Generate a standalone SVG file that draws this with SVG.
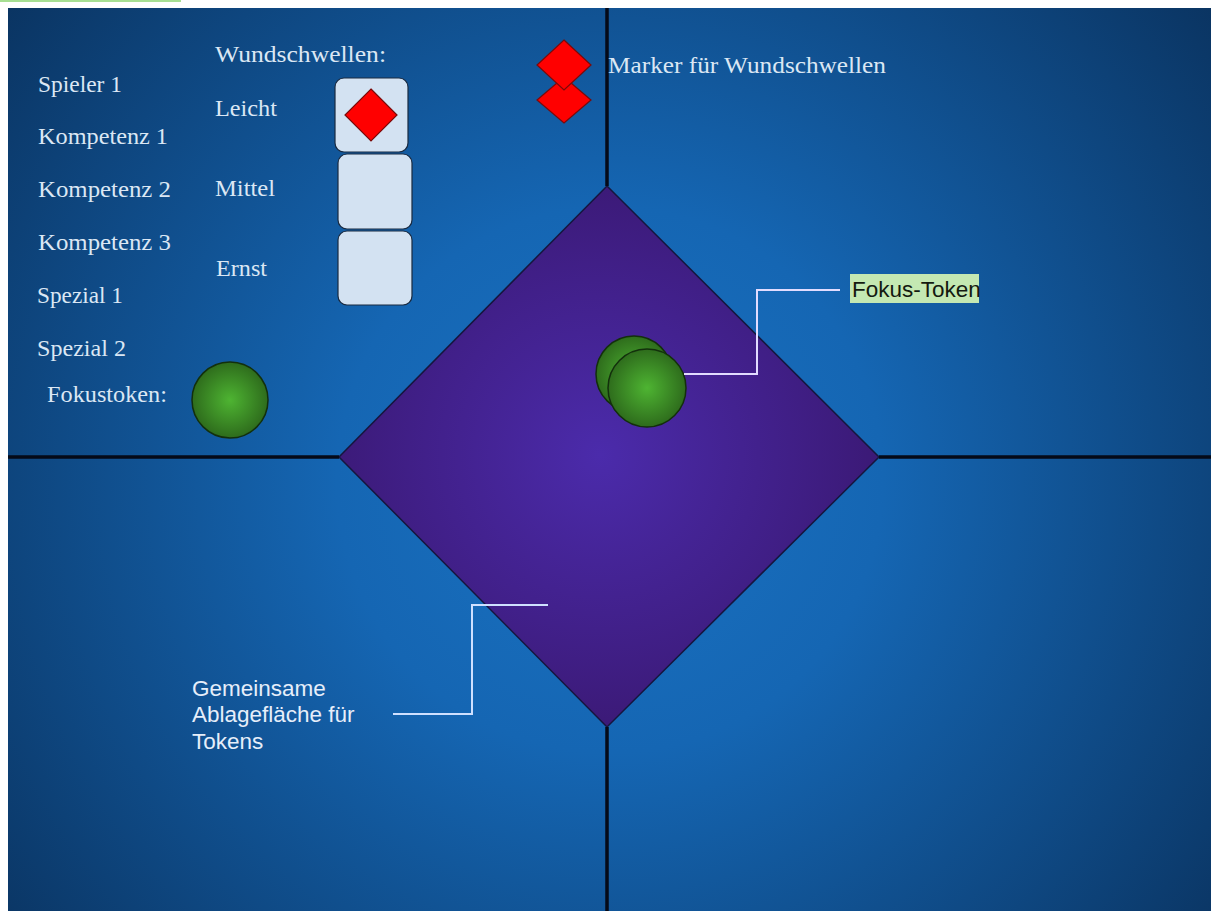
<svg xmlns="http://www.w3.org/2000/svg" width="1211" height="911" viewBox="0 0 1211 911">
<defs>
<radialGradient id="bg" cx="610" cy="480" r="780" gradientUnits="userSpaceOnUse">
<stop offset="0" stop-color="#1a72c2"/>
<stop offset="0.35" stop-color="#1566b3"/>
<stop offset="1" stop-color="#0a3360"/>
</radialGradient>
<radialGradient id="purple" cx="600" cy="455" r="300" gradientUnits="userSpaceOnUse">
<stop offset="0" stop-color="#4b2bab"/>
<stop offset="1" stop-color="#3a1872"/>
</radialGradient>
<radialGradient id="green" cx="0.5" cy="0.5" r="0.5">
<stop offset="0" stop-color="#4eb432"/>
<stop offset="1" stop-color="#2e6c1c"/>
</radialGradient>
<style>
.lbl{font-family:"Liberation Serif","Times New Roman",serif;font-size:24px;fill:#dbe7f4}
.sans{font-family:"Liberation Sans",Arial,sans-serif;font-size:22.5px}
.div{stroke:#050a18;stroke-width:3.5;fill:none}
.box{fill:#d3e2f2;stroke:#1a2a40;stroke-width:1.2}
.red{fill:#ff0000;stroke:#7a0a0a;stroke-width:1.2}
.tok{fill:url(#green);stroke:#13300c;stroke-width:1.5}
.call{fill:none;stroke-width:2}
</style>
</defs>
<rect x="0" y="0" width="1211" height="911" fill="#ffffff"/>
<rect x="0" y="0" width="181" height="2" fill="#a7df93"/>
<g id="board">
<rect x="8" y="8" width="1203" height="903" fill="url(#bg)"/>
</g>
<g id="center-area">
<polygon points="607,186 879,457 607,727 339,457" fill="url(#purple)" stroke="#16163e" stroke-width="1.5"/>
</g>
<g id="dividers">
<line class="div" x1="607" y1="8" x2="607" y2="186"/>
<line class="div" x1="607" y1="727" x2="607" y2="911"/>
<line class="div" x1="8" y1="457" x2="339" y2="457"/>
<line class="div" x1="879" y1="457" x2="1211" y2="457"/>
</g>
<g id="player-labels">
<text class="lbl" x="38" y="92" textLength="84" lengthAdjust="spacingAndGlyphs">Spieler 1</text>
<text class="lbl" x="38" y="144" textLength="130" lengthAdjust="spacingAndGlyphs">Kompetenz 1</text>
<text class="lbl" x="38" y="197" textLength="133" lengthAdjust="spacingAndGlyphs">Kompetenz 2</text>
<text class="lbl" x="38" y="250" textLength="133" lengthAdjust="spacingAndGlyphs">Kompetenz 3</text>
<text class="lbl" x="37" y="303" textLength="86" lengthAdjust="spacingAndGlyphs">Spezial 1</text>
<text class="lbl" x="37" y="356" textLength="89" lengthAdjust="spacingAndGlyphs">Spezial 2</text>
<text class="lbl" x="47" y="402" textLength="120" lengthAdjust="spacingAndGlyphs">Fokustoken:</text>
</g>
<g id="wound-labels">
<text class="lbl" x="215" y="62" textLength="171" lengthAdjust="spacingAndGlyphs">Wundschwellen:</text>
<text class="lbl" x="215" y="116" textLength="62" lengthAdjust="spacingAndGlyphs">Leicht</text>
<text class="lbl" x="215" y="196" textLength="60" lengthAdjust="spacingAndGlyphs">Mittel</text>
<text class="lbl" x="216" y="276" textLength="51" lengthAdjust="spacingAndGlyphs">Ernst</text>
</g>
<g id="wound-box-leicht">
<rect class="box" x="335" y="78" width="73" height="74" rx="9"/>
<polygon class="red" points="371,89 397,115 371,141 345,115"/>
</g>
<g id="wound-box-mittel">
<rect class="box" x="338" y="154" width="74" height="75" rx="9"/>
</g>
<g id="wound-box-ernst">
<rect class="box" x="338" y="231" width="74" height="74" rx="9"/>
</g>
<g id="markers">
<polygon class="red" points="564,77 591,100 564,123 537,100"/>
<polygon class="red" points="564,40 591,65 564,90 537,65"/>
<text class="lbl" x="608" y="73" textLength="278" lengthAdjust="spacingAndGlyphs">Marker für Wundschwellen</text>
</g>
<g id="focus-token-player">
<circle class="tok" cx="230" cy="400" r="38"/>
</g>
<g id="focus-tokens-center">
<circle class="tok" cx="634" cy="374" r="38"/>
<circle class="tok" cx="647" cy="388" r="39"/>
</g>
<g id="connectors">
<polyline class="call" stroke="#e2dcff" points="684,374 757,374 757,290 840,290"/>
<polyline class="call" stroke="#cfe0ff" points="393,714 472,714 472,605 548,605"/>
</g>
<g id="label-fokus-token">
<rect x="850" y="274" width="129" height="29" fill="#c4e8b2"/>
<text class="sans" x="852" y="297" fill="#141a10">Fokus-Token</text>
</g>
<g id="label-gemeinsame">
<text class="sans" x="192" y="696" fill="#e6eefa">Gemeinsame</text>
<text class="sans" x="192" y="722" fill="#e6eefa">Ablagefläche für</text>
<text class="sans" x="192" y="749" fill="#e6eefa">Tokens</text>
</g>
</svg>
